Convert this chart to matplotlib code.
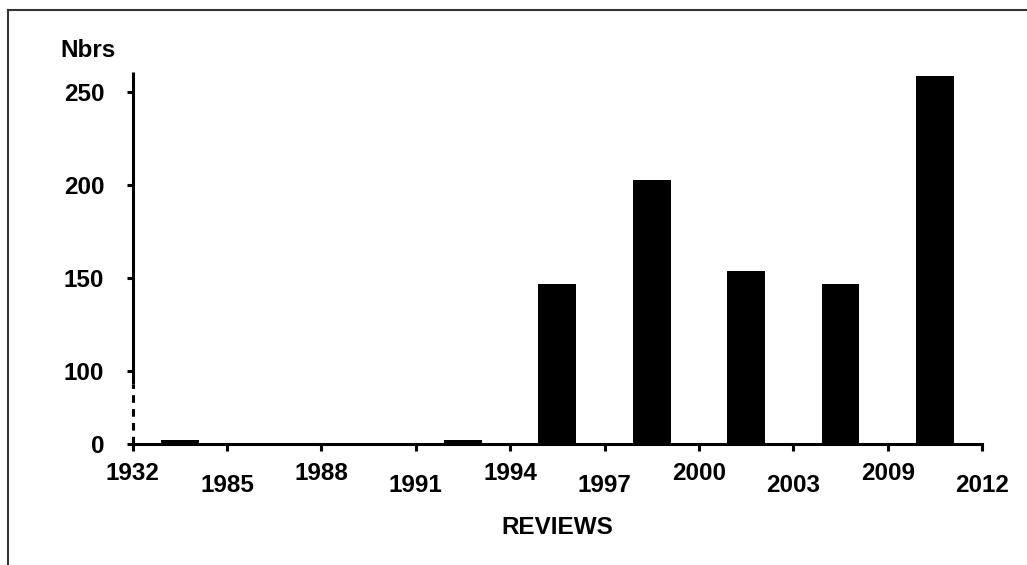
import numpy as np
import matplotlib
matplotlib.use('Agg')
import matplotlib.pyplot as plt
from matplotlib.lines import Line2D

# %% Data
tick_years = ['1932', '1985', '1988', '1991', '1994', '1997', '2000', '2003', '2009', '2012']
counts = [5, 0, 0, 5, 147, 203, 154, 147, 259]
y_ticks = [0, 100, 150, 200, 250]

# %% Broken y scale: 0-100 compressed, above 100 linear
Squeeze = 0.39
Cut = 100

def fwd(y):
    y = np.asarray(y, dtype=float)
    return np.where(y < Cut, y*Squeeze, y - Cut + Cut*Squeeze)

def inv(u):
    u = np.asarray(u, dtype=float)
    return np.where(u < Cut*Squeeze, u/Squeeze, u + Cut - Cut*Squeeze)

plt.rcParams['font.family'] = ['Liberation Sans', 'DejaVu Sans']
plt.rcParams['font.weight'] = 'bold'
plt.rcParams['lines.scale_dashes'] = False
FS = 17.5

DPI = 100
fig = plt.figure(figsize=(1027/DPI, 565/DPI), dpi=DPI)
ax = fig.add_axes([0.1292, 0.2142, 0.9562-0.1292, 0.8726-0.2142])

pos = np.arange(len(counts))
ax.bar(pos, counts, width=0.4, color='black')

ax.set_yscale('function', functions=(fwd, inv))
ax.set_ylim(0, 261)
ax.set_xlim(-0.5, len(counts)-0.5)

# y axis
ax.set_yticks(y_ticks)
ax.set_yticklabels([str(v) for v in y_ticks], fontsize=FS, fontweight='bold')
ax.tick_params(axis='y', direction='out', length=4, width=2.2, pad=16.5)

# x axis: staggered labels via major/minor ticks
edges = np.arange(len(tick_years)) - 0.5
ax.set_xticks(edges[::2])
ax.set_xticklabels(tick_years[::2], fontsize=FS, fontweight='bold')
ax.set_xticks(edges[1::2], minor=True)
ax.set_xticklabels(tick_years[1::2], minor=True, fontsize=FS, fontweight='bold')
ax.tick_params(axis='x', which='both', direction='out', length=5, width=2.2)
ax.tick_params(axis='x', which='major', pad=8)
ax.tick_params(axis='x', which='minor', pad=16.5)

for s in ['top', 'right', 'left']:
    ax.spines[s].set_visible(False)
ax.spines['bottom'].set_linewidth(2.2)

# left spine: solid above the break, dashed below
ytr = ax.get_yaxis_transform()
ax.plot([0, 0], [83, 261], color='black', lw=2.2, transform=ytr, clip_on=False, solid_capstyle='butt')
ax.plot([0, 0], [0, 83], color='black', lw=2.2, transform=ytr, clip_on=False,
        linestyle=(0, (5.5, 4.5)))

ax.set_xlabel('REVIEWS', fontsize=FS, fontweight='bold', labelpad=14)
fig.text(60/1027, 1-57/565, 'Nbrs', fontsize=FS, fontweight='bold', ha='left', va='baseline')

# frame lines of the original picture
fig.add_artist(Line2D([8/1027, 8/1027], [0, 1-10/565], color='#333333', lw=1.5))
fig.add_artist(Line2D([8/1027, 1], [1-10/565, 1-10/565], color='#333333', lw=1.5))

plt.savefig('out.png', dpi=DPI)
